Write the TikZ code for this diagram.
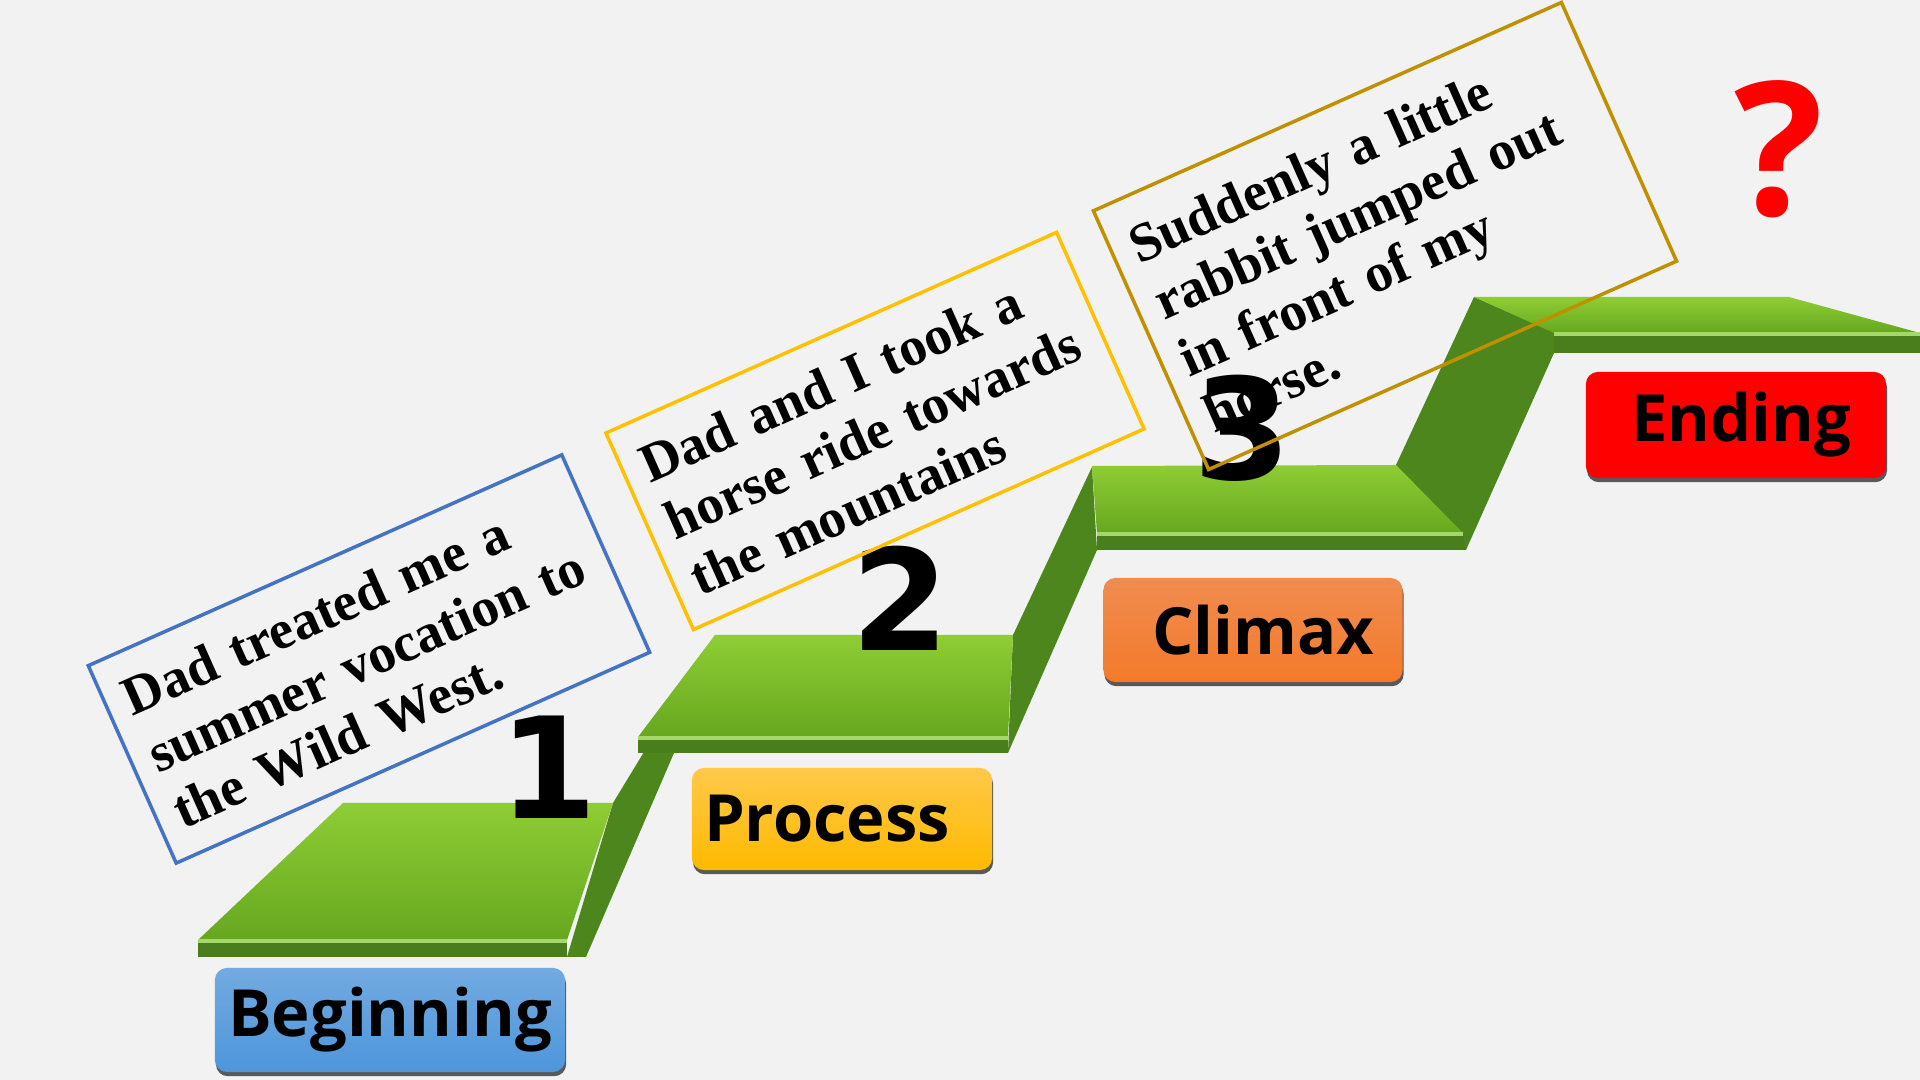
\documentclass[tikz,border=0pt]{standalone}
\usepackage{fontspec}
\setmainfont{Liberation Serif}
\newfontfamily\labelfont{Open Sans}
\newfontfamily\numfont{DejaVu Sans}
\usetikzlibrary{shadows}
\definecolor{bg}{HTML}{F2F2F2}
\definecolor{facelight}{HTML}{8FCD35}
\definecolor{facedark}{HTML}{66A71F}
\definecolor{riser}{HTML}{4C861D}
\definecolor{edgedark}{HTML}{4A7E1D}
\definecolor{edgelight}{HTML}{A5D86B}
\definecolor{blueline}{HTML}{4472C4}
\definecolor{goldline}{HTML}{FFC000}
\definecolor{darkgold}{HTML}{BF9000}
\definecolor{bluetop}{HTML}{72AAE0}
\definecolor{bluebot}{HTML}{4E96DC}
\definecolor{yeltop}{HTML}{FFC84A}
\definecolor{yelbot}{HTML}{FFBA00}
\definecolor{orgtop}{HTML}{F08C50}
\definecolor{orgbot}{HTML}{F47A2A}
\begin{document}
\begin{tikzpicture}[x=0.01cm, y=-0.01cm,
    face/.style={top color=facelight, bottom color=facedark},
    rise/.style={fill=riser},
    edge/.style={fill=edgedark},
    rim/.style={draw=edgelight, line width=1pt},
    story/.style={draw, line width=1pt, rotate=24, align=left, inner xsep=0.2cm, inner ysep=0pt,
        font=\fontsize{15.6}{17.6}\selectfont\bfseries},
    stage/.style={rounded corners=0.12cm, inner sep=0pt, font=\labelfont\bfseries\fontsize{18.5}{22}\selectfont,
        drop shadow={shadow xshift=0.3pt, shadow yshift=-1.2pt, fill=black!65, opacity=1}},
    num/.style={inner sep=0pt, font=\numfont\bfseries\fontsize{40}{40}\selectfont}]
    \useasboundingbox (0,0) rectangle (1920,1080);
    \fill[bg] (0,0) rectangle (1920,1080);

    \fill[rise] (613,803) -- (715,635) -- (674,753) -- (586,957) -- (567,957) -- cycle;
    \fill[rise] (1013,635) -- (1092,467) -- (1097,550) -- (1008,753) -- cycle;
    \fill[rise] (1396,465) -- (1474,297) -- (1554,332) -- (1554,353) -- (1466,550) -- cycle;

    \shade[face] (343,803) -- (613,803) -- (567,940) -- (198,940) -- cycle;
    \fill[edge] (198,940) rectangle (567,957);
    \draw[rim] (198,941) -- (567,941);
    \shade[face] (715,635) -- (1013,635) -- (1008,737) -- (638,737) -- cycle;
    \fill[edge] (638,737) rectangle (1008,753);
    \draw[rim] (638,738) -- (1008,738);
    \shade[face] (1092,466) -- (1396,465) -- (1463,533) -- (1097,533) -- cycle;
    \fill[edge] (1097,533) -- (1463,533) -- (1466,550) -- (1097,550) -- cycle;
    \draw[rim] (1097,534) -- (1463,534);
    \shade[face] (1474,297) -- (1789,297) -- (1920,333) -- (1554,333) -- cycle;
    \fill[edge] (1554,333) rectangle (1920,353);
    \draw[rim] (1554,334) -- (1920,334);

    \node[stage, top color=bluetop, bottom color=bluebot, minimum width=3.5cm, minimum height=1.04cm] (beginning) at (390,1020) {Beginning};
    \node[stage, top color=yeltop, bottom color=yelbot, minimum width=3cm, minimum height=1.02cm] (process) at (842,819) {Process\hspace*{0.3cm}};
    \node[stage, top color=orgtop, bottom color=orgbot, minimum width=2.99cm, minimum height=1.04cm] (climax) at (1253,630) {\hspace*{0.2cm}Climax};
    \node[stage, fill=red, minimum width=3cm, minimum height=1.06cm] (ending) at (1736,425) {\hspace*{0.1cm}Ending};

    \node[num] (one) at (548,767) {1};
    \node[num] (two) at (900,598) {2};
    \node[num] (three) at (1242,428) {3};
    \node[inner sep=0pt, text=red, font=\labelfont\bfseries\fontsize{53}{53}\selectfont] (what) at (1779,149) {?};

    \node[story, draw=blueline, text width=4.78cm, minimum height=2.16cm] (box1) at (369,659)
        {Dad treated me a\\summer vocation to\\the Wild West.};
    \node[story, draw=goldline, text width=4.53cm, minimum height=2.15cm] (box2) at (875,431)
        {Dad and I took a\\horse ride towards\\the mountains};
    \node[story, draw=darkgold, text width=4.72cm, minimum height=2.83cm] (box3) at (1385,236)
        {Suddenly a little\\rabbit jumped out\\in front of my\\horse.};
\end{tikzpicture}
\end{document}
